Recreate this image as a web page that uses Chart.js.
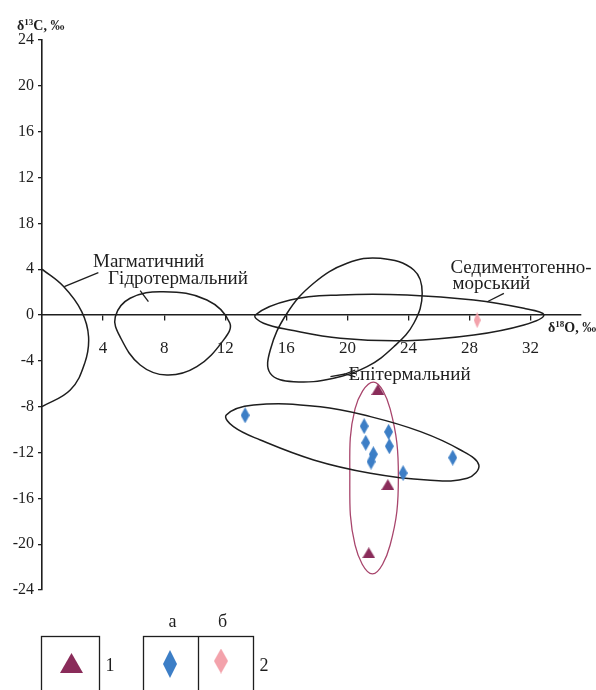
<!DOCTYPE html>
<html>
<head>
<meta charset="utf-8">
<script src="https://cdn.jsdelivr.net/npm/chart.js@4.4.1/dist/chart.umd.min.js"></script>
<style>
  html, body { margin: 0; padding: 0; background: #fff; }
  #wrap { width: 596px; height: 690px; }
</style>
</head>
<body>
<div id="wrap"><canvas id="chart" width="596" height="690"></canvas></div>
<script>
// tick values / labels (the "18" on the y axis is as printed in the source)
const xTickValues = [4, 8, 12, 16, 20, 24, 28, 32];
const xTickLabels = ['4', '8', '12', '16', '20', '24', '28', '32'];
const yTickValues = [24, 20, 16, 12, 8, 4, 0, -4, -8, -12, -16, -20, -24];
const yTickLabels = ['24', '20', '16', '12', '18', '4', '0', '-4', '-8', '-12', '-16', '-20', '-24'];

// 1 - triangles
const group1O = [22.0, 22.65, 21.4];
const group1C = [-6.5, -14.8, -20.75];
// 2a - blue diamonds
const group2aO = [13.3, 21.1, 21.2, 21.7, 21.55, 22.7, 22.75, 23.65, 26.9];
const group2aC = [-8.75, -9.7, -11.15, -12.15, -12.8, -10.2, -11.45, -13.8, -12.45];
// 2b - pink diamond
const group2bO = [28.5];
const group2bC = [-0.45];

// field outlines, points
const magmaticO = [0, 1.4, 2.6, 3.05, 2.8, 1.85, 0];
const magmaticC = [4, 2.5, 0.3, -1.9, -4.2, -6.55, -8];

const hydroO = [4.8, 5.77, 7.95, 10.8, 12.3, 11.89, 10.14, 8.18, 6.43, 5.11];
const hydroC = [-0.15, 1.46, 2.03, 1.31, -0.7, -2.18, -4.51, -5.24, -4.36, -1.89];

const sedimO = [13.97, 16.26, 19.54, 23.91, 28.28, 31.56, 32.87, 31.56, 28.28, 23.91, 19.54, 16.26, 14.51];
const sedimC = [0, 1.31, 1.75, 1.75, 1.31, 0.58, 0, -0.87, -1.75, -2.24, -2.03, -1.31, -0.72];

const epiO = [22.16, 24.35, 24.9, 24.35, 23.04, 21.29, 19.1, 16.48, 14.95, 14.95, 16.05, 17.79, 19.98];
const epiC = [4.95, 3.93, 1.89, -0.72, -2.77, -4.51, -5.52, -5.82, -5.09, -3.05, 0.15, 2.77, 4.51];

const lowerO = [12.07, 13.86, 18.23, 21.51, 24.79, 27.41, 28.61, 27.85, 25.23, 21.51, 17.79, 14.3, 12.54];
const lowerC = [-8.73, -7.85, -8.0, -8.87, -10.18, -11.78, -13.09, -14.25, -14.4, -13.81, -12.65, -10.91, -9.75];

const purpleO = [21.7, 22.8, 23.34, 22.8, 21.64, 20.5, 20.16, 20.5];
const purpleC = [-5.85, -8.2, -14.14, -20.07, -22.6, -20.07, -14.14, -8.2];

const ink = '#1e1e1e';
const serif = '"Liberation Serif", "DejaVu Serif", serif';

function toPoints(xs, ys) {
  return xs.map((x, i) => ({ x: x, y: ys[i] }));
}

// closed loop: wrap one point on each side so the spline is smooth at the seam,
// the two wrap segments are drawn transparent
function closedLoop(xs, ys) {
  const pts = toPoints(xs, ys);
  const n = pts.length;
  const wrapped = [pts[n - 1]].concat(pts, [pts[0], pts[1]]);
  return wrapped.map(p => ({ x: p.x, y: p.y }));
}

function loopDataset(xs, ys, color, width) {
  const data = closedLoop(xs, ys);
  const last = data.length - 1;
  return {
    data: data,
    showLine: true,
    borderColor: color,
    borderWidth: width,
    pointRadius: 0,
    tension: 0.4,
    fill: false,
    order: 2,
    segment: {
      borderColor: ctx => (ctx.p0DataIndex === 0 || ctx.p1DataIndex === last) ? 'rgba(0,0,0,0)' : undefined
    }
  };
}

function shapeImage(kind, w, h, color) {
  const c = document.createElement('canvas');
  c.width = w; c.height = h;
  const g = c.getContext('2d');
  g.fillStyle = color;
  g.beginPath();
  if (kind === 'triangle') {
    g.moveTo(w / 2, 0); g.lineTo(w, h); g.lineTo(0, h);
  } else {
    g.moveTo(w / 2, 0); g.lineTo(w, h / 2); g.lineTo(w / 2, h); g.lineTo(0, h / 2);
  }
  g.closePath();
  g.fill();
  return c;
}

const triColor = '#8a2c5a';
const blueColor = '#3c7ec6';
const pinkColor = '#f3a2ab';

const triImg = shapeImage('triangle', 13, 11, triColor);
const blueImg = shapeImage('diamond', 9, 16, blueColor);
const pinkImg = shapeImage('diamond', 7, 16, pinkColor);

// labels of the fields (left x, middle y in data units)
const fieldLabels = [
  { text: 'Магматичний', x: 3.34, y: 4.62 },
  { text: 'Гідротермальний', x: 4.33, y: 3.14 },
  { text: 'Седиментогенно-', x: 26.75, y: 4.1 },
  { text: 'морський', x: 26.89, y: 2.71 },
  { text: 'Епітермальний', x: 20.07, y: -5.24 }
];
const leaders = [
  [[3.69, 3.69], [1.46, 2.47]],
  [[6.43, 2.12], [6.97, 1.16]],
  [[30.25, 1.89], [29.16, 1.16]],
  [[18.89, -5.38], [19.87, -5.15]],
  [[20.52, -4.8], [19.87, -5.15], [20.52, -5.41]]
];

function drawSup(ctx, x, y, parts, size) {
  // parts: [text, isSup]
  let cx = x;
  parts.forEach(([t, sup]) => {
    ctx.font = 'bold ' + (sup ? Math.round(size * 0.62) : size) + 'px ' + serif;
    ctx.fillText(t, cx, sup ? y - size * 0.38 : y);
    cx += ctx.measureText(t).width;
  });
}

const overlay = {
  id: 'overlay',
  afterDatasetsDraw(chart) {
    const ctx = chart.ctx;
    const xs = chart.scales.x, ys = chart.scales.y;
    ctx.save();
    ctx.fillStyle = ink;
    ctx.strokeStyle = ink;
    ctx.lineWidth = 1.3;
    // leaders
    leaders.forEach(line => {
      ctx.beginPath();
      line.forEach(([vx, vy], i) => {
        const px = xs.getPixelForValue(vx), py = ys.getPixelForValue(vy);
        if (i === 0) ctx.moveTo(px, py); else ctx.lineTo(px, py);
      });
      ctx.stroke();
    });
    // field names
    ctx.font = '19px ' + serif;
    ctx.textBaseline = 'middle';
    ctx.textAlign = 'left';
    fieldLabels.forEach(l => {
      ctx.fillText(l.text, xs.getPixelForValue(l.x), ys.getPixelForValue(l.y));
    });
    // axis titles
    ctx.textBaseline = 'alphabetic';
    drawSup(ctx, 17, 30, [['δ', false], ['13', true], ['C, ‰', false]], 14);
    drawSup(ctx, 548, 332, [['δ', false], ['18', true], ['O, ‰', false]], 14);
    ctx.restore();
  },
  afterDraw(chart) {
    const ctx = chart.ctx;
    ctx.save();
    ctx.strokeStyle = ink;
    ctx.lineWidth = 1.3;
    // legend boxes
    ctx.strokeRect(41.5, 636.5, 58, 60);
    ctx.strokeRect(143.5, 636.5, 110, 60);
    ctx.beginPath(); ctx.moveTo(198.5, 636.5); ctx.lineTo(198.5, 690); ctx.stroke();
    ctx.drawImage(shapeImage('triangle', 23, 20, triColor), 71.5 - 11.5, 663 - 10);
    ctx.drawImage(shapeImage('diamond', 14, 28, blueColor), 170 - 7, 664 - 14);
    ctx.drawImage(shapeImage('diamond', 14, 25, pinkColor), 221 - 7, 661 - 12.5);
    ctx.fillStyle = ink;
    ctx.font = '18px ' + serif;
    ctx.textAlign = 'center';
    ctx.textBaseline = 'middle';
    ctx.fillText('а', 172.5, 622);
    ctx.fillText('б', 222.5, 622);
    ctx.fillText('1', 110, 666);
    ctx.fillText('2', 264, 666);
    ctx.restore();
  }
};

new Chart(document.getElementById('chart'), {
  type: 'scatter',
  data: {
    datasets: [
      { data: toPoints(group1O, group1C), pointStyle: triImg, pointRadius: 6, order: 0 },
      { data: toPoints(group2aO, group2aC), pointStyle: blueImg, pointRadius: 6, order: 0 },
      { data: toPoints(group2bO, group2bC), pointStyle: pinkImg, pointRadius: 6, order: 0 },
      {
        data: toPoints(magmaticO, magmaticC), showLine: true, borderColor: ink, borderWidth: 1.5,
        pointRadius: 0, tension: 0.4, order: 2
      },
      loopDataset(hydroO, hydroC, ink, 1.5),
      loopDataset(sedimO, sedimC, ink, 1.5),
      loopDataset(epiO, epiC, ink, 1.5),
      loopDataset(lowerO, lowerC, ink, 1.5),
      loopDataset(purpleO, purpleC, '#a8456c', 1.3)
    ]
  },
  options: {
    responsive: false,
    animation: false,
    events: [],
    layout: { padding: { top: 40, right: 15, bottom: 100, left: 0 } },
    plugins: { legend: { display: false }, tooltip: { enabled: false } },
    scales: {
      x: {
        type: 'linear',
        min: 0,
        max: 35.3,
        position: { y: 0 },
        afterBuildTicks: s => { s.ticks = xTickValues.map(v => ({ value: v })); },
        afterFit: s => { s.height = 0; },
        grid: { drawOnChartArea: false, drawTicks: true, tickLength: 5, color: ink, lineWidth: 1.3 },
        border: { display: true, color: ink, width: 1.6 },
        ticks: {
          padding: 18, color: ink, autoSkip: false, maxRotation: 0,
          font: { family: serif, size: 17 },
          callback: (v, i) => xTickLabels[i]
        }
      },
      y: {
        type: 'linear',
        min: -24,
        max: 24,
        position: 'left',
        afterBuildTicks: s => { s.ticks = yTickValues.map(v => ({ value: v })); },
        afterFit: s => { s.width = 42; },
        grid: { drawOnChartArea: false, drawTicks: true, tickLength: 4, color: ink, lineWidth: 1.3 },
        border: { display: true, color: ink, width: 1.6 },
        ticks: {
          padding: 4, color: ink, autoSkip: false,
          font: { family: serif, size: 16 },
          callback: (v, i) => yTickLabels[i]
        }
      }
    }
  },
  plugins: [overlay]
});
</script>
</body>
</html>
